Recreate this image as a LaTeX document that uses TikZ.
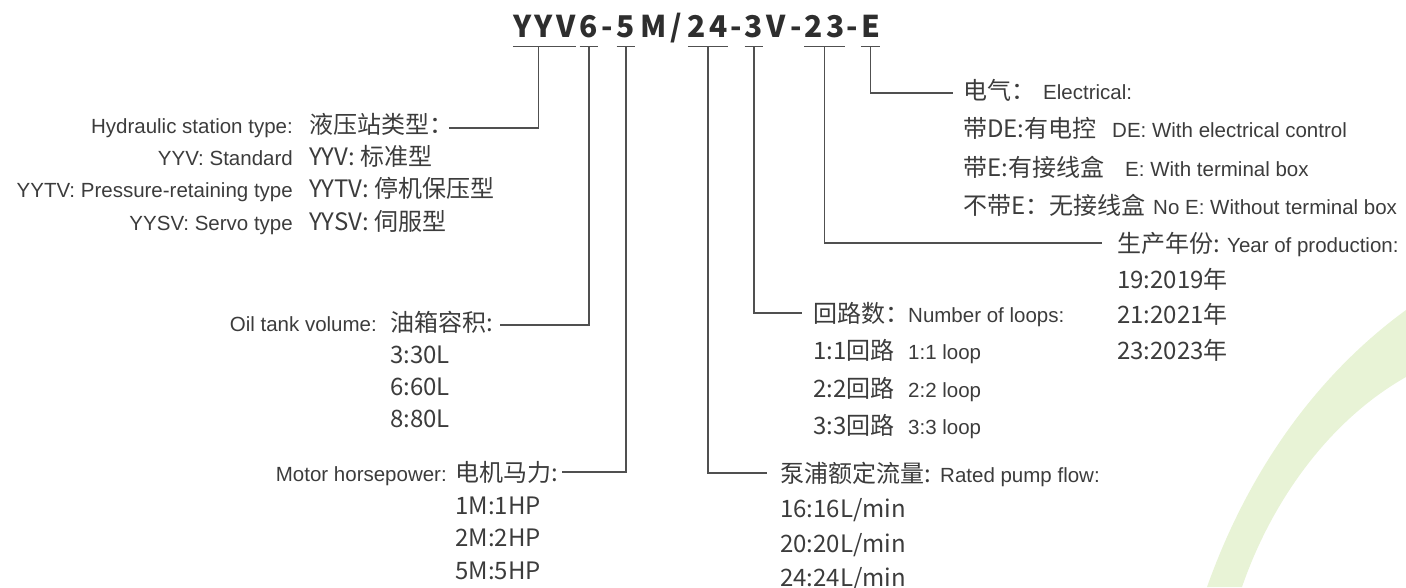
\documentclass[tikz,border=0pt]{standalone}
\usepackage{fontspec}
\setmainfont{Liberation Sans}
\newfontfamily\cjk{Noto Sans CJK SC}
\usepackage{tikz}
\definecolor{ink}{HTML}{3C3C3C}
\definecolor{codeink}{HTML}{2E2E2E}
\definecolor{legcol}{HTML}{505050}
\definecolor{leaf}{HTML}{E8F3D6}
\tikzstyle{en} = [inner sep=0pt, text=ink, font=\fontsize{20.5pt}{24pt}\selectfont]
\tikzstyle{cn} = [inner sep=0pt, text=ink, text height=20pt, text depth=2pt, font=\cjk\fontsize{24pt}{28pt}\selectfont]
\tikzstyle{code} = [inner xsep=0pt, inner ysep=9pt, text height=22pt, text depth=0pt, anchor=base, text=codeink, font=\cjk\bfseries\fontsize{30pt}{35pt}\selectfont]
\tikzstyle{leg} = [draw=legcol, line width=1.3pt]

\begin{document}
\begin{tikzpicture}[x=1pt, y=-1pt]
  \useasboundingbox (0,0) rectangle (1406,587);
  % background leaf
  \fill[leaf] (1207,587) .. controls (1245,480) and (1310,380) .. (1406,310) -- (1406,377) .. controls (1330,420) and (1272,500) .. (1242,587) -- cycle;

  % model code
  \node[code] (yyv) at (544.5,37) {Y\kern3.5pt Y\kern3.5pt V};
  \node[code] (six) at (589,37) {6};
  \node[code] (dasha) at (607.5,37) {-};
  \node[code] (five) at (626,37) {5};
  \node[code] (mslash) at (661.5,37) {M\kern3.5pt/};
  \node[code] (flow) at (708,37) {2\kern3.5pt 4};
  \node[code] (dashb) at (736,37) {-};
  \node[code] (loops) at (754,37) {3};
  \node[code] (vee) at (776.5,37) {V};
  \node[code] (dashc) at (796,37) {-};
  \node[code] (year) at (824.5,37) {2\kern3.5pt 3};
  \node[code] (dashd) at (852.5,37) {-};
  \node[code] (elec) at (870.5,37) {E};

  % station type
  \node[en, anchor=base east] (typeen) at (293,133) {Hydraulic station type:};
  \node[cn, anchor=base west] (typecn) at (309,133) {液压站类型：};
  \node[en, anchor=base east] (stden) at (293,165) {YYV: Standard};
  \node[cn, anchor=base west] (stdcn) at (309,165) {YYV: 标准型};
  \node[en, anchor=base east] (holden) at (293,197) {YYTV: Pressure-retaining type};
  \node[cn, anchor=base west] (holdcn) at (309,197) {YYTV: 停机保压型};
  \node[en, anchor=base east] (servoen) at (293,230) {YYSV: Servo type};
  \node[cn, anchor=base west] (servocn) at (309,230) {YYSV: 伺服型};

  % oil tank
  \node[en, anchor=base east] (tanken) at (377,331) {Oil tank volume:};
  \node[cn, anchor=base west] (tankcn) at (390,331) {油箱容积:};
  \node[cn, anchor=base west] (tanka) at (390,363) {3:30L};
  \node[cn, anchor=base west] (tankb) at (390,395) {6:60L};
  \node[cn, anchor=base west] (tankc) at (390,427) {8:80L};

  % motor
  \node[en, anchor=base east] (motoren) at (447,481) {Motor horsepower:};
  \node[cn, anchor=base west] (motorcn) at (455,481) {电机马力:};
  \node[cn, anchor=base west] (motora) at (455,514) {1M:1HP};
  \node[cn, anchor=base west] (motorb) at (455,546) {2M:2HP};
  \node[cn, anchor=base west] (motorc) at (455,579) {5M:5HP};

  % pump flow
  \node[cn, anchor=base west] (flowcn) at (780,482) {泵浦额定流量:};
  \node[en, anchor=base west] (flowen) at (940,482) {Rated pump flow:};
  \node[cn, anchor=base west] (flowa) at (780,517) {16:16L/min};
  \node[cn, anchor=base west] (flowb) at (780,552) {20:20L/min};
  \node[cn, anchor=base west] (flowc) at (780,586) {24:24L/min};

  % loops
  \node[cn, anchor=base west] (loopscn) at (813,322) {回路数：};
  \node[en, anchor=base west] (loopsen) at (908,322) {Number of loops:};
  \node[cn, anchor=base west] (loopa) at (813,359) {1:1回路};
  \node[en, anchor=base west] (loopaen) at (908,359) {1:1 loop};
  \node[cn, anchor=base west] (loopb) at (813,397) {2:2回路};
  \node[en, anchor=base west] (loopben) at (908,397) {2:2 loop};
  \node[cn, anchor=base west] (loopc) at (813,434) {3:3回路};
  \node[en, anchor=base west] (loopcen) at (908,434) {3:3 loop};

  % year
  \node[cn, anchor=base west] (yearcn) at (1117,252) {生产年份:};
  \node[en, anchor=base west] (yearen) at (1227,252) {Year of production:};
  \node[cn, anchor=base west] (yeara) at (1117,288) {19:2019年};
  \node[cn, anchor=base west] (yearb) at (1117,323) {21:2021年};
  \node[cn, anchor=base west] (yearc) at (1117,359) {23:2023年};

  % electrical
  \node[cn, anchor=base west] (eleccn) at (963,99) {电气：};
  \node[en, anchor=base west] (elecen) at (1043,99) {Electrical:};
  \node[cn, anchor=base west] (eleca) at (963,137) {带DE:有电控};
  \node[en, anchor=base west] (elecaen) at (1112,137) {DE: With electrical control};
  \node[cn, anchor=base west] (elecb) at (963,176) {带E:有接线盒};
  \node[en, anchor=base west] (elecben) at (1125,176) {E: With terminal box};
  \node[cn, anchor=base west] (elecc) at (963,214) {不带E：无接线盒};
  \node[en, anchor=base west] (eleccen) at (1153,214) {No E: Without terminal box};

  % underlines
  \foreach \n in {yyv, six, five, flow, loops, year, elec}
    \draw[leg] (\n.south west) -- (\n.south east);

  % legs
  \draw[leg] ([xshift=-6pt]yyv.south) |- ([xshift=-4pt, yshift=-4pt]typecn.east);
  \draw[leg] (six.south) |- ([xshift=7pt, yshift=-3pt]tankcn.east);
  \draw[leg] (five.south) |- ([xshift=4pt]motorcn.east);
  \draw[leg] (flow.south) |- ([xshift=-13pt]flowcn.west);
  \draw[leg] (loops.south) |- ([xshift=-11pt]loopscn.west);
  \draw[leg] (year.south) |- ([xshift=-15pt]yearcn.west);
  \draw[leg] (elec.south) |- ([xshift=-10pt, yshift=-3pt]eleccn.west);
\end{tikzpicture}
\end{document}
